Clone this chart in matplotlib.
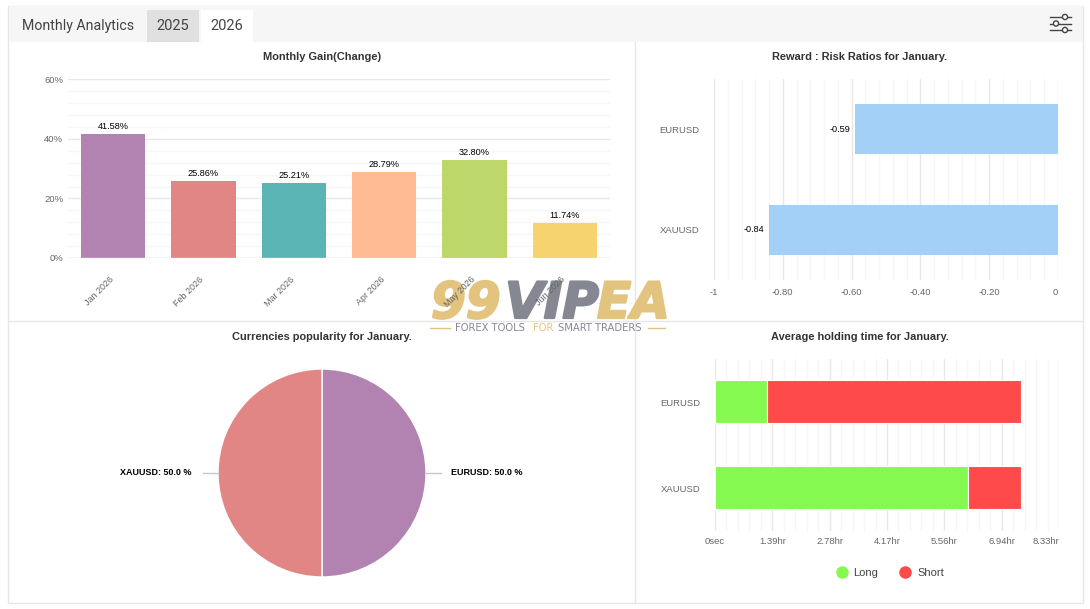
import matplotlib
matplotlib.use('Agg')
import matplotlib.pyplot as plt
import matplotlib.patheffects as pe
from matplotlib.lines import Line2D
from matplotlib.patches import Rectangle, Circle
from matplotlib.transforms import ScaledTranslation

W, H = 1090, 609

plt.rcParams['font.family'] = ['Liberation Sans', 'DejaVu Sans']

# Data
months = ['Jan 2026', 'Feb 2026', 'Mar 2026', 'Apr 2026', 'May 2026', 'Jun 2026']
gain = [41.58, 25.86, 25.21, 28.79, 32.80, 11.74]
gain_labels = ['41.58%', '25.86%', '25.21%', '28.79%', '32.80%', '11.74%']
gain_ticks = [0, 20, 40, 60]
gain_ticklabels = ['0%', '20%', '40%', '60%']

pairs = ['EURUSD', 'XAUUSD']
rr = [-0.59, -0.84]
rr_ticks = [-1, -0.8, -0.6, -0.4, -0.2, 0]
rr_ticklabels = ['-1', '-0.80', '-0.60', '-0.40', '-0.20', '0']

pie_shares = [50.0, 50.0]

# holding time, seconds
hold_long = [4570, 22100]
hold_short = [22150, 4620]
hold_ticks = [0, 5000, 10000, 15000, 20000, 25000, 30000]
hold_ticklabels = ['0sec', '1.39hr', '2.78hr', '4.17hr', '5.56hr', '6.94hr', '8.33hr']

# Palette
_BAR_COLORS = ['#b283b0', '#e18684', '#5bb5b5', '#ffbb94', '#bdd76b', '#f6d36e']
_BLUE = '#a0cff7'
_GREEN = '#85f94f'
_RED = '#fe4a4a'
_MAJOR = '#e8e8e8'
_MINOR = '#f6f6f6'
_TICK = '#666666'
_TITLE = '#333333'
_LINE = '#e6e6e6'
_GOLD = '#e3c47f'
_STEEL = '#858892'


def px_axes(fig, left, top, right, bottom):
    ax = fig.add_axes([left / W, 1 - bottom / H, (right - left) / W, (bottom - top) / H])
    ax.patch.set_visible(False)
    ax.set_zorder(2)
    for spine in ax.spines.values():
        spine.set_visible(False)
    ax.set_axisbelow(True)
    return ax


def minor_grid(ax, axis, ticks, steps=5):
    minors = []
    for a, b in zip(ticks[:-1], ticks[1:]):
        minors += [a + (b - a) * i / steps for i in range(1, steps)]
    if axis == 'x':
        ax.set_xticks(minors, minor=True)
    else:
        ax.set_yticks(minors, minor=True)
    ax.grid(axis=axis, which='major', color=_MAJOR, linewidth=1)
    ax.grid(axis=axis, which='minor', color=_MINOR, linewidth=1)
    ax.tick_params(axis=axis, which='both', length=0)


fig = plt.figure(figsize=(W / 100, H / 100), dpi=100, facecolor='white')

# page furniture in pixel coordinates
bg = fig.add_axes([0, 0, 1, 1])
bg.set_xlim(0, W)
bg.set_ylim(H, 0)
bg.axis('off')
bg.set_zorder(0)
bg.add_patch(Rectangle((8, 5.5), 1075, 597, facecolor='white', edgecolor=_LINE, linewidth=1))
bg.add_patch(Rectangle((9, 6), 1074, 36, facecolor='#f6f6f6', edgecolor='none'))
bg.add_patch(Rectangle((147, 10), 52, 32, facecolor='#e0e0e0', edgecolor='none'))
bg.add_patch(Rectangle((201, 10), 52, 32, facecolor='white', edgecolor='none'))
bg.plot([635, 635], [42, 602], color=_LINE, lw=1)
bg.plot([9, 1083], [321, 321], color=_LINE, lw=1)
bg.text(22, 26, 'Monthly Analytics', family='Roboto', fontsize=10.2, color='#444444', va='center')
bg.text(173, 26, '2025', family='Roboto', fontsize=10.5, color='#444444', va='center', ha='center')
bg.text(227, 26, '2026', family='Roboto', fontsize=10.5, color='#444444', va='center', ha='center')

# settings icon
for y, cx in ((17, 1065), (23.5, 1056), (30, 1065)):
    bg.plot([1050, 1071], [y, y], color='#444444', lw=1)
    bg.add_patch(Circle((cx, y), 2.6, facecolor='#f6f6f6', edgecolor='#444444', linewidth=1, zorder=3))

# watermark logo
logo = dict(family='DejaVu Sans', fontsize=36, fontweight='bold', style='oblique', va='baseline')
for xpos, word, col in ((431, '99', _GOLD), (505, 'VIP', _STEEL), (597, 'EA', _GOLD)):
    t = bg.text(xpos, 318, word, color=col, **logo)
    t.set_path_effects([pe.withStroke(linewidth=1.6, foreground=col)])
tag = dict(family='DejaVu Sans', fontsize=7.2, va='center')
bg.text(455, 328, 'FOREX TOOLS', color=_STEEL, **tag)
bg.text(533, 328, 'FOR', color=_GOLD, **tag)
bg.text(558, 328, 'SMART TRADERS', color=_STEEL, **tag)
bg.plot([430, 450], [328, 328], color=_GOLD, lw=1)
bg.plot([648, 665], [328, 328], color=_GOLD, lw=1)

title_kw = dict(fontsize=7.9, fontweight='bold', color=_TITLE, ha='center', va='center')
bg.text(322, 56.5, 'Monthly Gain(Change)', **title_kw)
bg.text(860, 56.5, 'Reward : Risk Ratios for January.', **title_kw)
bg.text(322, 336.5, 'Currencies popularity for January.', **title_kw)
bg.text(860, 336.5, 'Average holding time for January.', **title_kw)

# Monthly gain
ax = px_axes(fig, 68, 79.5, 610, 258)
ax.bar(months, gain, width=0.71, color=_BAR_COLORS, zorder=2)
ax.set_xlim(-0.5, 5.5)
ax.set_ylim(0, 60)
ax.set_yticks(gain_ticks, gain_ticklabels)
minor_grid(ax, 'y', gain_ticks)
ax.tick_params(axis='y', labelsize=6.8, labelcolor=_TICK, pad=3.5)
ax.tick_params(axis='x', length=0, labelsize=6.5, labelcolor=_TICK, pad=12)
shift = ScaledTranslation(-4 / 100, 0, fig.dpi_scale_trans)
for lbl in ax.get_xticklabels():
    lbl.set(rotation=45, ha='right', rotation_mode='anchor')
    lbl.set_transform(lbl.get_transform() + shift)
ax.axhline(0, color='#e0e0e6', lw=1, zorder=3)
for i, v in enumerate(gain):
    ax.annotate(gain_labels[i], (i, v), xytext=(0, 3), textcoords='offset pixels',
                ha='center', va='bottom', fontsize=6.6, color='black')

# Reward : risk
ax = px_axes(fig, 714, 79, 1058, 280)
ax.barh(pairs, rr, height=0.5, color=_BLUE, zorder=2, alpha=0.98)
ax.set_xlim(-1, 0)
ax.set_ylim(1.5, -0.5)
ax.set_xticks(rr_ticks, rr_ticklabels)
minor_grid(ax, 'x', rr_ticks)
ax.tick_params(axis='x', labelsize=6.8, labelcolor=_TICK, pad=6)
ax.tick_params(axis='y', length=0, labelsize=6.8, labelcolor=_TICK, pad=10.7)
ax.get_xticklabels()[-1].set_ha('right')
for i, v in enumerate(rr):
    ax.annotate(f'{v:.2f}', (v, i), xytext=(-5, 0), textcoords='offset pixels',
                ha='right', va='center', fontsize=6.6, color='black')

# Currencies popularity
ax = px_axes(fig, 218, 369, 426, 577)
wedges, _ = ax.pie(pie_shares, colors=[_BAR_COLORS[0], _BAR_COLORS[1]], startangle=90,
                   counterclock=False, radius=1,
                   wedgeprops=dict(edgecolor='white', linewidth=1))
ax.set_xlim(-1, 1)
ax.set_ylim(-1, 1)
for pair, share, side, off in zip(pairs, pie_shares, (1, -1), (1.24, 1.255)):
    ax.plot([side, side * 1.145], [0, 0], color='#c8c8c8', lw=1, clip_on=False)
    ax.text(side * off, 0, f'{pair}: {share:.1f} %', fontsize=6.5, fontweight='bold',
            color='black', va='center', ha='left' if side > 0 else 'right')

# Average holding time
ax = px_axes(fig, 715, 358.5, 1059, 530.5)
ax.barh(pairs, hold_long, height=0.5, color=_GREEN, edgecolor='white', linewidth=0.8, zorder=2)
ax.barh(pairs, hold_short, left=hold_long, height=0.5, color=_RED, edgecolor='white', linewidth=0.8, zorder=2)
ax.set_xlim(0, 30000)
ax.set_ylim(1.5, -0.5)
ax.set_xticks(hold_ticks, hold_ticklabels)
minor_grid(ax, 'x', hold_ticks)
ax.tick_params(axis='x', labelsize=6.8, labelcolor=_TICK, pad=5)
ax.tick_params(axis='y', length=0, labelsize=6.8, labelcolor=_TICK, pad=10.7)
ax.get_xticklabels()[-1].set_ha('right')
down = ScaledTranslation(0, -1 / 100, fig.dpi_scale_trans)
for lbl in ax.get_yticklabels():
    lbl.set_transform(lbl.get_transform() + down)
handles = [Line2D([], [], linestyle='none', marker='o', markersize=8, color=_GREEN, label='Long'),
           Line2D([], [], linestyle='none', marker='o', markersize=8, color=_RED, label='Short')]
fig.legend(handles=handles, loc='center', bbox_to_anchor=(890 / W, 1 - 572.5 / H), ncol=2, frameon=False,
           fontsize=8, labelcolor='#444444', handlelength=1, handletextpad=0.55, columnspacing=1.95)

fig.savefig('out.png', dpi=100, facecolor='white')
